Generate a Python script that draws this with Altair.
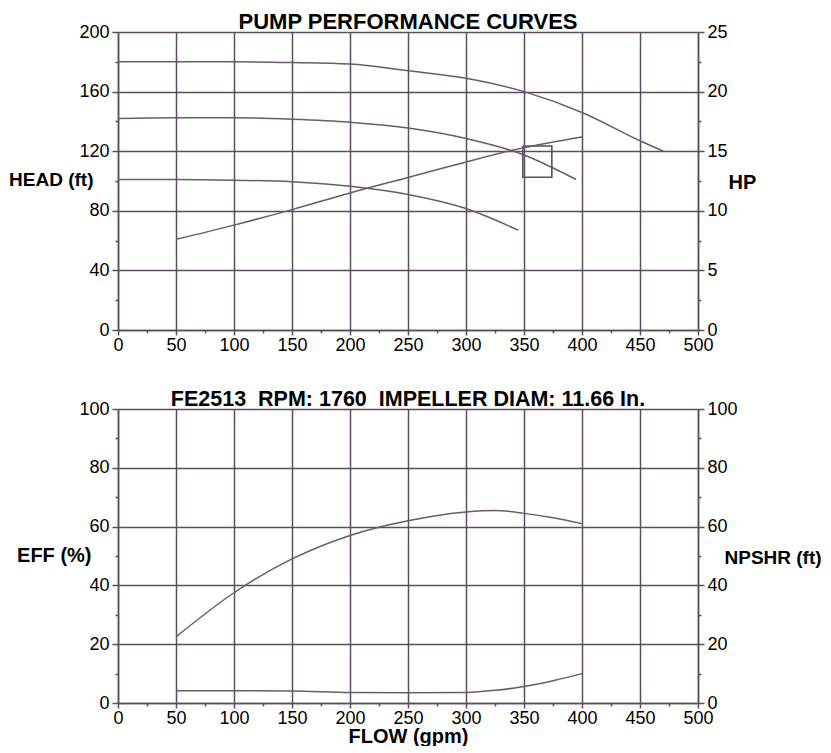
import altair as alt
import pandas as pd

# ---------------- data ----------------
head1_flow = [0, 50, 100, 150, 200, 250, 300, 350, 400, 450, 470]
head1_ft = [180, 180, 180, 179.5, 178.5, 174, 169, 160, 146, 127, 120]

head2_flow = [0, 50, 100, 150, 200, 250, 300, 350, 395]
head2_ft = [142, 142.5, 142.5, 141.5, 139.5, 135.5, 128.5, 117.5, 101]

head3_flow = [0, 50, 100, 150, 200, 250, 300, 345]
head3_ft = [101, 101, 100.5, 99.5, 96.5, 91, 81.5, 67]

hp_flow = [50, 100, 150, 200, 250, 300, 350, 400]
hp_val = [7.6, 8.8, 10.1, 11.5, 12.8, 14.1, 15.3, 16.2]

box_flow = [349, 374, 374, 349, 349]
box_ft = [123.5, 123.5, 102.5, 102.5, 123.5]

eff_flow = [50, 100, 150, 200, 250, 300, 325, 350, 375, 400]
eff_pct = [22.5, 37.5, 49, 57, 62, 65, 65.5, 64.5, 63, 61]

npshr_flow = [50, 100, 150, 200, 250, 300, 325, 350, 375, 400]
npshr_ft = [4.2, 4.2, 4.1, 3.6, 3.5, 3.6, 4.3, 5.6, 7.6, 10]

flow_ticks = list(range(0, 501, 25))
head_ticks = list(range(0, 201, 20))
hp_ticks = [i * 2.5 for i in range(11)]
pct_ticks = list(range(0, 101, 10))

title_top = "PUMP PERFORMANCE CURVES"
title_bottom = "FE2513\u00a0\u00a0RPM: 1760\u00a0\u00a0IMPELLER DIAM: 11.66 In."

# ---------------- tables ----------------
rows = []
for name, fx, fy in [("h1", head1_flow, head1_ft), ("h2", head2_flow, head2_ft), ("h3", head3_flow, head3_ft)]:
    for i, (a, b) in enumerate(zip(fx, fy)):
        rows.append({"curve": name, "i": i, "flow": a, "head": b})
head_df = pd.DataFrame(rows)
box_df = pd.DataFrame({"i": range(len(box_flow)), "flow": box_flow, "head": box_ft})
hp_df = pd.DataFrame({"flow": hp_flow, "hp": hp_val})
eff_df = pd.DataFrame({"flow": eff_flow, "eff": eff_pct})
npshr_df = pd.DataFrame({"flow": npshr_flow, "npshr": npshr_ft})

FONT = "Liberation Sans"
GRID = "#5c4c5f"
CURVE = "#6a5a6d"
W = 580


def cond(step, minor, major):
    return {"condition": {"test": f"datum.value % {step} != 0", "value": minor}, "value": major}


def x_enc(title=None):
    return alt.X(
        "flow:Q",
        scale=alt.Scale(domain=[0, 500], nice=False),
        axis=alt.Axis(
            values=flow_ticks,
            labelExpr="datum.value % 50 == 0 ? datum.label : ''",
            gridOpacity=cond(50, 0, 1),
            tickSize=cond(50, 3, 5),
            labelOverlap=False,
            labelFlush=False,
            labelPadding=1,
            title=title,
            titlePadding=-1,
        ),
    )


def left_axis(values, step, title, tx, ty, tsize=20):
    return alt.Axis(
        values=values,
        labelExpr=f"datum.value % {step} == 0 ? datum.label : ''",
        gridOpacity=cond(step, 0, 1),
        tickSize=cond(step, 3, 6),
        labelOverlap=False,
        labelFlush=False,
        labelPadding=3,
        title=title,
        titleFontSize=tsize,
        titleAngle=0,
        titleAlign="right",
        titleBaseline="middle",
        titleX=tx,
        titleY=ty,
    )


def right_axis(values, step, title, tx, ty, tsize=20):
    return alt.Axis(
        values=values,
        orient="right",
        grid=False,
        labelExpr=f"datum.value % {step} == 0 ? format(datum.value, 'd') : ''",
        tickSize=cond(step, 3, 6),
        labelOverlap=False,
        labelFlush=False,
        labelPadding=3,
        title=title,
        titleFontSize=tsize,
        titleAngle=0,
        titleAlign="left",
        titleBaseline="middle",
        titleX=tx,
        titleY=ty,
    )


# ---------------- top panel ----------------
head_y = alt.Y("head:Q", scale=alt.Scale(domain=[0, 200], nice=False),
               axis=left_axis(head_ticks, 40, "HEAD (ft)", -25, 147, tsize=19))

head_lines = alt.Chart(head_df).mark_line(color=CURVE, strokeWidth=1.5, interpolate="monotone").encode(
    x=x_enc(), y=head_y, detail="curve:N", order="i:Q")
box_line = alt.Chart(box_df).mark_line(color=GRID, strokeWidth=1.6).encode(
    x=x_enc(), y=head_y, order="i:Q")
hp_line = alt.Chart(hp_df).mark_line(color=CURVE, strokeWidth=1.5, interpolate="monotone").encode(
    x=x_enc(),
    y=alt.Y("hp:Q", scale=alt.Scale(domain=[0, 25], nice=False),
            axis=right_axis(hp_ticks, 5, "HP", 30, 150)),
)

top = alt.layer(alt.layer(head_lines, box_line), hp_line).resolve_scale(y="independent").properties(
    width=W, height=298,
    title=alt.TitleParams(title_top, font=FONT, fontSize=22, fontWeight="bold", color="black",
                          anchor="middle", offset=-28, baseline="alphabetic"),
)

# ---------------- bottom panel ----------------
eff_line = alt.Chart(eff_df).mark_line(color=CURVE, strokeWidth=1.5, interpolate="monotone").encode(
    x=x_enc("FLOW (gpm)"),
    y=alt.Y("eff:Q", scale=alt.Scale(domain=[0, 100], nice=False),
            axis=left_axis(pct_ticks, 20, "EFF (%)", -27, 146)),
)
npshr_line = alt.Chart(npshr_df).mark_line(color=CURVE, strokeWidth=1.5, interpolate="monotone").encode(
    x=x_enc("FLOW (gpm)"),
    y=alt.Y("npshr:Q", scale=alt.Scale(domain=[0, 100], nice=False),
            axis=right_axis(pct_ticks, 20, "NPSHR (ft)", 26, 148, tsize=19)),
)
bottom = alt.layer(eff_line, npshr_line).resolve_scale(y="independent").properties(
    width=W, height=294,
    title=alt.TitleParams(title_bottom, font=FONT, fontSize=21.5, fontWeight="bold", color="black",
                          anchor="middle", offset=-27, baseline="alphabetic"),
)

chart = alt.vconcat(top, bottom, spacing=34).properties(
    padding={"left": 0, "top": 3, "right": 0, "bottom": 0},
    background="white",
).configure_axis(
    labelFont=FONT, labelFontSize=18, labelColor="black",
    titleFont=FONT, titleFontSize=20, titleFontWeight="bold", titleColor="black",
    gridColor=GRID, gridWidth=1.5, domainColor=GRID, domainWidth=1.5,
    tickColor=GRID, tickWidth=1.5,
).configure_view(stroke=None)

chart.save("out.html", embed_options={"renderer": "svg", "actions": False})
